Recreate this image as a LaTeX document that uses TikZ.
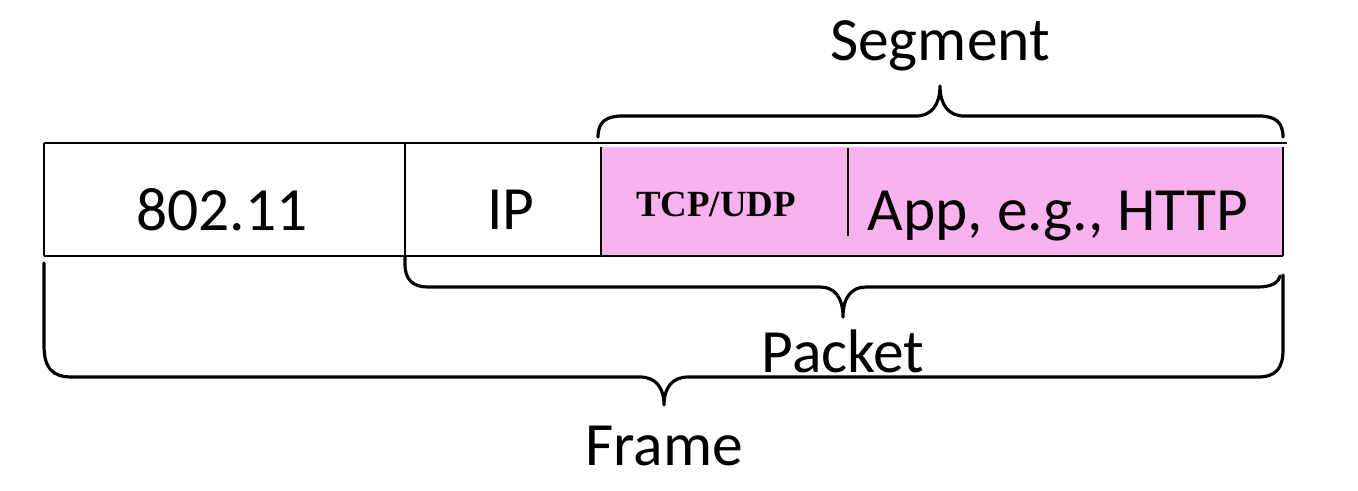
\documentclass[tikz,border=0pt]{standalone}
\usepackage{fontspec}
\setmainfont{Carlito}
\newfontfamily\tcpfont{Liberation Serif}
\definecolor{segpink}{RGB}{250,178,238}
\tikzset{
  lbl/.style={anchor=base, inner sep=0pt, font=\fontsize{35}{40}\selectfont},
  tcplbl/.style={anchor=base, inner sep=0pt, font=\tcpfont\bfseries\fontsize{21}{24}\selectfont},
  brc/.style={line width=1.8pt, line cap=round, line join=round},
}
\begin{document}
\begin{tikzpicture}[x=0.02cm, y=-0.02cm]
\useasboundingbox (0,0) rectangle (1358,490);

% segment part of the frame
\fill [segpink] (601,147) rectangle (1283,255);
\begin{scope}[line width=0.8pt]
\draw (601,147) -- (601,255);
\draw (1283,147) -- (1283,256);
\draw (848,148) -- (848,236);
\end{scope}

% frame outline
\begin{scope}[line width=1.7pt]
\draw (44,143) -- (1287,143);
\draw (44,256) -- (1283,256);
\draw (44,143) -- (44,256);
\draw (405,143) -- (405,256);
\end{scope}

\node [lbl] (mac) at (222,230) {802.11};
\node [lbl] (ip) at (511,229) {IP};
\node [tcplbl] (tcp) at (716,216) {TCP/UDP};
\node [lbl] (app) at (1058,230) {App, e.g., HTTP};

% braces
\begin{scope}[brc]
\draw (598,137) .. controls (598,122) and (606,116) .. (622,116) -- (916,116)
  .. controls (932,116) and (940,104) .. (940,86)
  .. controls (940,104) and (948,116) .. (964,116) -- (1259,116)
  .. controls (1275,116) and (1283,122) .. (1283,137); %segment
\draw (405,256) -- (405,264) .. controls (405,280) and (413,287) .. (428,287) -- (820,287)
  .. controls (835,287) and (843,298) .. (843,317)
  .. controls (843,298) and (851,287) .. (866,287) -- (1258,287)
  .. controls (1272,287) and (1279,282) .. (1280,276); %packet
\draw (44,263) -- (44,345) .. controls (44,368) and (52,377) .. (72,377) -- (640,377)
  .. controls (656,377) and (664,388) .. (664,405)
  .. controls (664,388) and (672,377) .. (688,377) -- (1258,377)
  .. controls (1276,377) and (1283,368) .. (1283,350) -- (1283,275); %frame
\end{scope}

\node [lbl] (seg) at (940,60) {Segment};
\node [lbl] (pkt) at (843,372) {Packet};
\node [lbl] (frm) at (664,465) {Frame};

\end{tikzpicture}
\end{document}
